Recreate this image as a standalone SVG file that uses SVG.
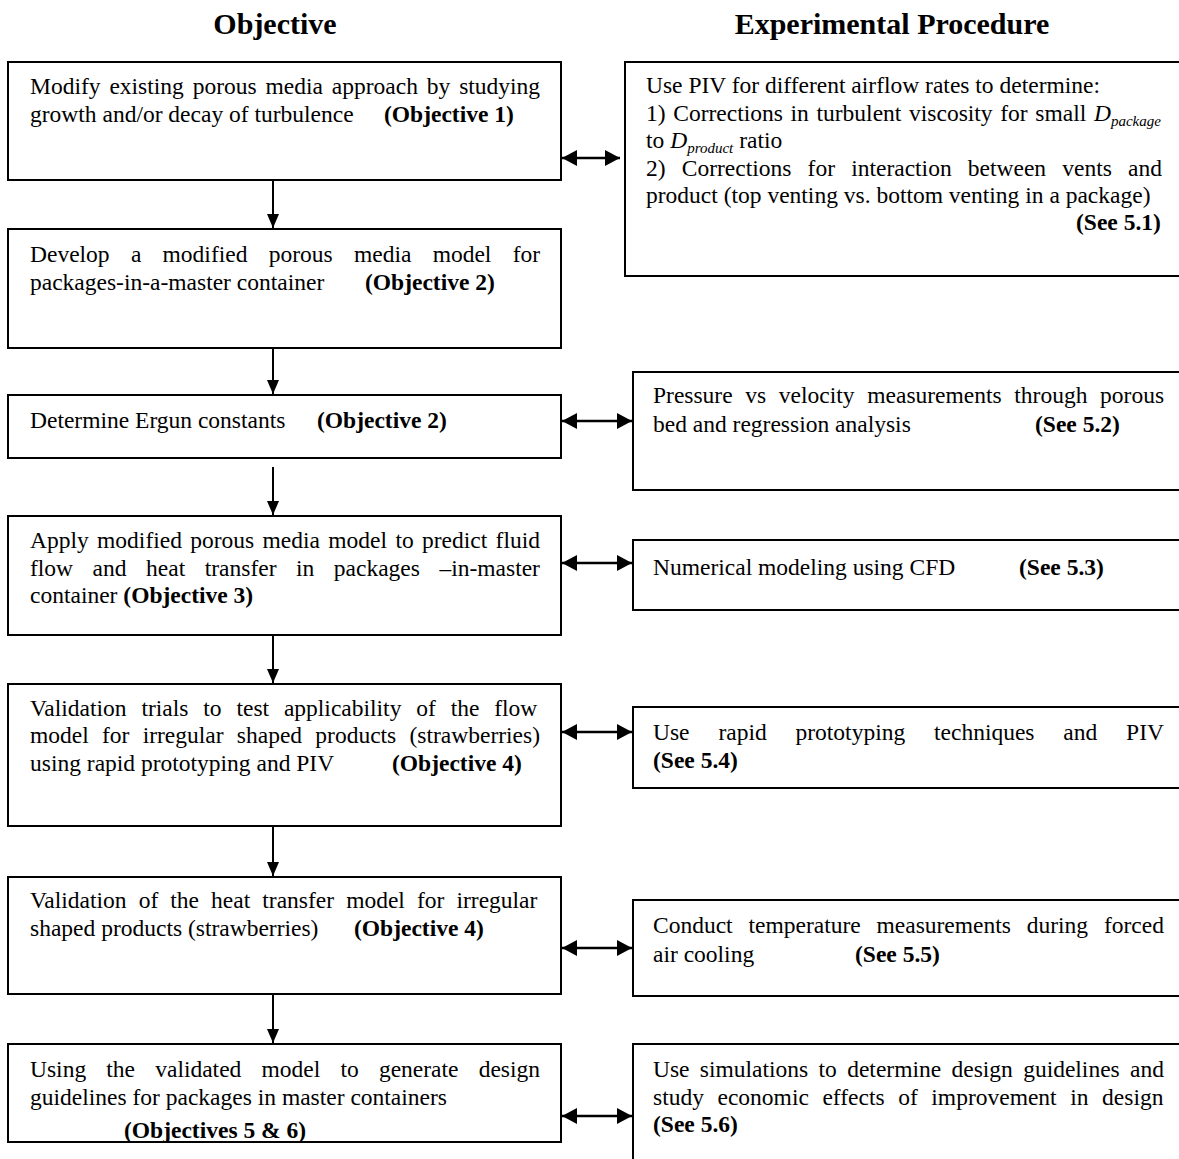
<svg xmlns="http://www.w3.org/2000/svg" width="1179" height="1159" viewBox="0 0 1179 1159">
<style>
text{font-family:"Liberation Serif","Times New Roman",serif;font-size:23.5px;fill:#000}
.h{font-size:30px;font-weight:bold;text-anchor:middle}
.b{font-weight:bold}
.i{font-style:italic}
.sub{font-style:italic;font-size:15px}
.box{fill:#fff;stroke:#000;stroke-width:2}
.ln{stroke:#000;stroke-width:2;fill:none}
.dl{stroke:#000;stroke-width:2.5;fill:none}
</style>
<defs>
<marker id="arr" markerUnits="userSpaceOnUse" markerWidth="14" markerHeight="14" refX="14" refY="6" orient="auto" viewBox="0 0 14 12">
<path d="M0,0 L14,6 L0,12 z" fill="#000"/>
</marker>
<marker id="darr" markerUnits="userSpaceOnUse" markerWidth="15" markerHeight="16" refX="15" refY="8" orient="auto-start-reverse" viewBox="0 0 15 16">
<path d="M0,0 L15,8 L0,16 z" fill="#000"/>
</marker>
<clipPath id="c7"><rect x="8" y="1044" width="553" height="97"/></clipPath>
</defs>
<rect width="1179" height="1159" fill="#fff"/>

<g id="headers">
<text class="h" x="275" y="34">Objective</text>
<text class="h" x="892" y="34">Experimental Procedure</text>
</g>

<g id="obj1">
<rect class="box" x="8" y="62" width="553" height="118"/>
<text x="30" y="94" word-spacing="3">Modify existing porous media approach by studying</text>
<text x="30" y="122">growth and/or decay of turbulence</text>
<text class="b" x="384" y="122">(Objective 1)</text>
</g>

<g id="obj2">
<rect class="box" x="8" y="229" width="553" height="119"/>
<text x="30" y="262" word-spacing="15.4">Develop a modified porous media model for</text>
<text x="30" y="290">packages-in-a-master container</text>
<text class="b" x="365" y="290">(Objective 2)</text>
</g>

<g id="obj3">
<rect class="box" x="8" y="395" width="553" height="63"/>
<text x="30" y="428">Determine Ergun constants</text>
<text class="b" x="317" y="428">(Objective 2)</text>
</g>

<g id="obj4">
<rect class="box" x="8" y="516" width="553" height="119"/>
<text x="30" y="548" word-spacing="2.46">Apply modified porous media model to predict fluid</text>
<text x="30" y="576" word-spacing="13.65">flow and heat transfer in packages –in-master</text>
<text x="30" y="603">container <tspan class="b">(Objective 3)</tspan></text>
</g>

<g id="obj5">
<rect class="box" x="8" y="684" width="553" height="142"/>
<text x="30" y="716" word-spacing="8.98">Validation trials to test applicability of the flow</text>
<text x="30" y="743" word-spacing="7.38">model for irregular shaped products (strawberries)</text>
<text x="30" y="771">using rapid prototyping and PIV</text>
<text class="b" x="392" y="771">(Objective 4)</text>
</g>

<g id="obj6">
<rect class="box" x="8" y="877" width="553" height="117"/>
<text x="30" y="908" word-spacing="6.2">Validation of the heat transfer model for irregular</text>
<text x="30" y="936">shaped products (strawberries)</text>
<text class="b" x="354" y="936">(Objective 4)</text>
</g>

<g id="obj7">
<rect class="box" x="8" y="1044" width="553" height="98"/>
<g clip-path="url(#c7)">
<text x="30" y="1077" word-spacing="14.3">Using the validated model to generate design</text>
<text x="30" y="1105">guidelines for packages in master containers</text>
<text class="b" x="124" y="1138">(Objectives 5 &amp; 6)</text>
</g>
</g>

<g id="exp1">
<rect class="box" x="625" y="62" width="570" height="214"/>
<text x="646" y="93">Use PIV for different airflow rates to determine:</text>
<text x="646" y="121" word-spacing="1.8">1) Corrections in turbulent viscosity for small <tspan class="i">D</tspan><tspan class="sub" dy="5">package</tspan></text>
<text x="646" y="148">to <tspan class="i">D</tspan><tspan class="sub" dy="5">product</tspan><tspan dy="-5"> ratio</tspan></text>
<text x="646" y="176" word-spacing="10.3">2) Corrections for interaction between vents and</text>
<text x="646" y="203">product (top venting vs. bottom venting in a package)</text>
<text class="b" x="1076" y="230">(See 5.1)</text>
</g>

<g id="exp2">
<rect class="box" x="633" y="372" width="560" height="118"/>
<text x="653" y="403" word-spacing="6.8">Pressure vs velocity measurements through porous</text>
<text x="653" y="432">bed and regression analysis</text>
<text class="b" x="1035" y="432">(See 5.2)</text>
</g>

<g id="exp3">
<rect class="box" x="633" y="540" width="560" height="70"/>
<text x="653" y="575">Numerical modeling using CFD</text>
<text class="b" x="1019" y="575">(See 5.3)</text>
</g>

<g id="exp4">
<rect class="box" x="633" y="707" width="560" height="81"/>
<text x="653" y="740" word-spacing="22.96">Use rapid prototyping techniques and PIV</text>
<text class="b" x="653" y="768">(See 5.4)</text>
</g>

<g id="exp5">
<rect class="box" x="633" y="900" width="560" height="96"/>
<text x="653" y="933" word-spacing="9.95">Conduct temperature measurements during forced</text>
<text x="653" y="962">air cooling</text>
<text class="b" x="855" y="962">(See 5.5)</text>
</g>

<g id="exp6">
<rect class="box" x="633" y="1044" width="560" height="140"/>
<text x="653" y="1077" word-spacing="4.45">Use simulations to determine design guidelines and</text>
<text x="653" y="1105" word-spacing="7.7">study economic effects of improvement in design</text>
<text class="b" x="653" y="1132">(See 5.6)</text>
</g>

<g id="connectors">
<line class="ln" x1="273" y1="181" x2="273" y2="228" marker-end="url(#arr)"/>
<line class="ln" x1="273" y1="349" x2="273" y2="394" marker-end="url(#arr)"/>
<line class="ln" x1="273" y1="467" x2="273" y2="515" marker-end="url(#arr)"/>
<line class="ln" x1="273" y1="636" x2="273" y2="683" marker-end="url(#arr)"/>
<line class="ln" x1="273" y1="827" x2="273" y2="876" marker-end="url(#arr)"/>
<line class="ln" x1="273" y1="995" x2="273" y2="1043" marker-end="url(#arr)"/>
<line class="dl" x1="562" y1="158" x2="620" y2="158" marker-start="url(#darr)" marker-end="url(#darr)"/>
<line class="dl" x1="562" y1="421" x2="632" y2="421" marker-start="url(#darr)" marker-end="url(#darr)"/>
<line class="dl" x1="562" y1="563" x2="632" y2="563" marker-start="url(#darr)" marker-end="url(#darr)"/>
<line class="dl" x1="562" y1="732" x2="632" y2="732" marker-start="url(#darr)" marker-end="url(#darr)"/>
<line class="dl" x1="562" y1="948" x2="632" y2="948" marker-start="url(#darr)" marker-end="url(#darr)"/>
<line class="dl" x1="562" y1="1116" x2="632" y2="1116" marker-start="url(#darr)" marker-end="url(#darr)"/>
</g>
</svg>
